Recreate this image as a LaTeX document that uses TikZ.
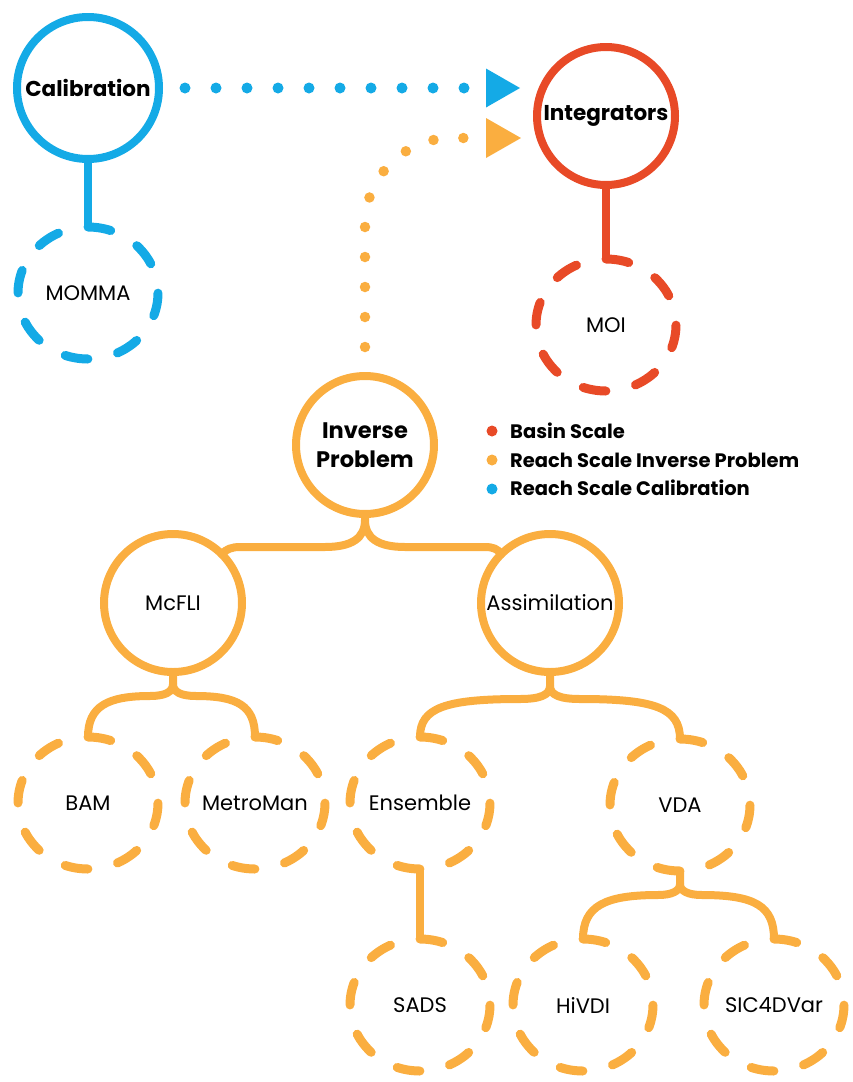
\documentclass[tikz,border=0pt]{standalone}
\usepackage{fontspec}
\setmainfont{Poppins}
\usetikzlibrary{shapes.geometric}
\definecolor{cblue}{RGB}{20,170,230}
\definecolor{corange}{RGB}{250,174,64}
\definecolor{cred}{RGB}{232,74,39}
\begin{document}
\begin{tikzpicture}[x=1pt,y=1pt,
  ring/.style={circle, draw=#1, line width=8pt, inner sep=0pt, outer sep=0pt, minimum size=138pt, font=\fontsize{21}{29}\selectfont},
  boldlbl/.style={font=\bfseries\fontsize{21.5}{29}\selectfont},
  dnode/.style={ellipse, draw=#1, line width=9pt, line cap=round, minimum width=140pt, minimum height=132pt, inner xsep=-25pt, inner ysep=0pt, outer sep=0pt, dash pattern=on 23pt off 30.4pt, dash phase=23pt, font=\fontsize{21}{26}\selectfont},
  branch/.style={draw=corange, line width=8pt, line cap=round},
  stem/.style={draw=#1, line width=8pt},
  dotline/.style={draw=#1, line width=11pt, line cap=round},
  legtext/.style={anchor=base west, inner sep=0pt, font=\bfseries\fontsize{19.5}{22}\selectfont},
]
\useasboundingbox (0,0) rectangle (852,-1082);

% solid nodes
\node[ring=cblue, boldlbl, minimum size=142pt] (cal) at (88,-88) {Calibration};
\node[ring=cred, boldlbl] (int) at (606,-116) {Integrators};
\node[ring=corange, align=center, font=\bfseries\fontsize{22.5}{29}\selectfont] (inv) at (365,-445) {Inverse\\Problem};
\node[ring=corange] (mcf) at (173,-603) {McFLI};
\node[ring=corange] (asm) at (550,-603) {Assimilation};

% dashed nodes
\node[dnode=cblue] (mom) at (88,-293) {MOMMA};
\node[dnode=cred] (moi) at (606,-325) {MOI};
\node[dnode=corange] (bam) at (88,-803) {BAM};
\node[dnode=corange] (met) at (255,-803) {MetroMan};
\node[dnode=corange] (ens) at (420,-803) {Ensemble};
\node[dnode=corange] (vda) at (680,-805) {VDA};
\node[dnode=corange] (sads) at (420,-1005) {SADS};
\node[dnode=corange] (hiv) at (583,-1005) {HiVDI};
\node[dnode=corange] (sic) at (774,-1005) {SIC4DVar};

% arrow tips
\coordinate (bluetip) at (486,-88);
\coordinate (orangetip) at (486,-138);

% dotted connectors
\draw[dotline=cblue, dash pattern=on 0pt off 31pt, shorten <=26pt, shorten >=16pt] (cal.east) -- (bluetip);
\fill[cblue] (bluetip) -- ++(0,19.5) -- ++(34,-19.5) -- ++(-34,-19.5) -- cycle;
\draw[dotline=corange, line width=10.5pt, dash pattern=on 0pt off 30pt, shorten <=29pt] (inv.north) -- (365,-225) arc[start angle=180, end angle=90, radius=87] -- ([xshift=-16pt]orangetip);
\fill[corange] (orangetip) -- ++(0,20) -- ++(35,-20) -- ++(-35,-20) -- cycle;

% stems
\draw[stem=cblue] (cal.south) -- (mom.north);
\draw[stem=cred] (int.south) -- (moi.north);
\draw[branch, line cap=butt] (ens.south) -- (sads.north);

% branches
\draw[branch] (inv.south) -- (365,-520) .. controls (365,-538) and (352,-547) .. (325,-547) -- (240,-547) .. controls (232,-547) and (226,-549) .. (mcf.45);
\draw[branch] (365,-520) .. controls (365,-538) and (378,-547) .. (405,-547) -- (485,-547) .. controls (493,-547) and (498,-549) .. (asm.135);

\draw[branch] (mcf.south) -- (173,-684) .. controls (173,-692) and (165,-696) .. (150,-696) .. controls (108,-696) and (88,-706) .. (bam.north);
\draw[branch] (173,-684) .. controls (173,-692) and (181,-696) .. (196,-696) .. controls (238,-696) and (255,-706) .. (met.north);

\draw[branch] (asm.south) -- (550,-686) .. controls (550,-695) and (540,-699) .. (520,-699) .. controls (445,-699) and (420,-708) .. (ens.north);
\draw[branch] (550,-686) .. controls (550,-695) and (560,-699) .. (580,-699) .. controls (655,-699) and (680,-708) .. (vda.north);

\draw[branch] (vda.south) -- (680,-884) .. controls (680,-891) and (672,-895) .. (658,-895) .. controls (605,-895) and (583,-906) .. (hiv.north);
\draw[branch] (680,-884) .. controls (680,-891) and (688,-895) .. (702,-895) .. controls (755,-895) and (774,-906) .. (sic.north);

% legend
\node[legtext] (lg1) at (510,-438) {Basin Scale};
\node[legtext] (lg2) at (510,-467) {Reach Scale Inverse Problem};
\node[legtext] (lg3) at (510,-495) {Reach Scale Calibration};
\fill[cred] (492,-431) circle (5.5);
\fill[corange] (492,-460) circle (5.5);
\fill[cblue] (492,-489) circle (5.5);
\end{tikzpicture}
\end{document}
